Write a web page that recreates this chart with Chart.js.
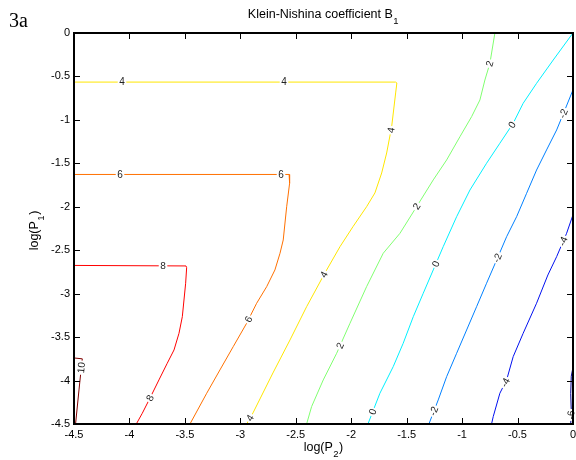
<!DOCTYPE html>
<html>
<head>
<meta charset="utf-8">
<script src="https://cdn.jsdelivr.net/npm/chart.js@4.4.1/dist/chart.umd.min.js"></script>
<style>
  html, body { margin: 0; padding: 0; background: #fff; }
  canvas { display: block; }
</style>
</head>
<body>
<canvas id="kn" width="576" height="460"></canvas>
<script>
// B1 contour levels; each level is a polyline in (log P2, log P1)
const levels = [10, 8, 6, 4, 2, 0, -2, -4, -6];

const x10 = [-4.5, -4.425, -4.43, -4.455, -4.486];
const y10 = [-3.74, -3.75, -3.80, -4.108, -4.5];

const x8 = [-4.5, -3.49, -3.484, -3.493, -3.523, -3.553, -3.598, -3.659, -3.734, -3.808, -3.884, -3.938];
const y8 = [-2.675, -2.681, -2.70, -2.880, -3.265, -3.456, -3.648, -3.801, -3.993, -4.185, -4.376, -4.5];

const x6 = [-4.5, -2.56, -2.552, -2.559, -2.582, -2.613, -2.642, -2.688, -2.762, -2.853, -2.943, -3.064, -3.184, -3.303, -3.454];
const y6 = [-1.628, -1.628, -1.634, -1.730, -2.000, -2.382, -2.535, -2.727, -2.919, -3.111, -3.341, -3.610, -3.878, -4.146, -4.5];

const x4 = [-4.5, -1.60, -1.588, -1.599, -1.635, -1.680, -1.725, -1.786, -1.861, -1.984, -2.101, -2.237, -2.402, -2.552, -2.706, -2.886, -2.943];
const y4 = [-0.565, -0.565, -0.575, -0.690, -1.078, -1.381, -1.611, -1.841, -1.999, -2.229, -2.459, -2.762, -3.150, -3.533, -3.913, -4.373, -4.5];

const x2 = [-0.704, -0.749, -0.794, -0.839, -0.914, -1.019, -1.139, -1.260, -1.410, -1.560, -1.711, -1.861, -2.011, -2.131, -2.252, -2.357, -2.402];
const y2 = [0, -0.349, -0.541, -0.771, -0.963, -1.193, -1.461, -1.691, -1.999, -2.305, -2.535, -2.919, -3.341, -3.686, -3.993, -4.300, -4.5];

const x0 = [0, -0.178, -0.328, -0.449, -0.539, -0.659, -0.779, -0.929, -1.049, -1.170, -1.260, -1.350, -1.440, -1.531, -1.621, -1.741, -1.849];
const y0 = [0, -0.311, -0.579, -0.809, -1.039, -1.269, -1.499, -1.807, -2.114, -2.459, -2.727, -2.995, -3.265, -3.571, -3.840, -4.146, -4.5];

const xm2 = [0, -0.073, -0.147, -0.238, -0.328, -0.418, -0.508, -0.598, -0.688, -0.779, -0.869, -0.959, -1.049, -1.139, -1.215, -1.299];
const ym2 = [-0.656, -0.886, -1.116, -1.346, -1.577, -1.845, -2.114, -2.344, -2.612, -2.880, -3.150, -3.418, -3.686, -3.955, -4.223, -4.5];

const xm4 = [0, -0.057, -0.147, -0.226, -0.328, -0.449, -0.539, -0.598, -0.659, -0.719, -0.734];
const ym4 = [-2.094, -2.305, -2.574, -2.785, -3.110, -3.456, -3.725, -3.993, -4.146, -4.415, -4.5];

const xm6 = [0, -0.015, -0.02, -0.015, -0.02];
const ym6 = [-3.85, -3.95, -4.15, -4.35, -4.5];

// where the inline level labels sit on each contour
const lab10 = [[-4.446, -3.85]];
const lab8 = [[-3.697, -2.681], [-3.797, -4.212]];
const lab6 = [[-4.085, -1.628], [-2.633, -1.628], [-2.913, -3.303]];
const lab4 = [[-4.067, -0.565], [-2.606, -0.565], [-1.651, -1.116], [-2.237, -2.785], [-2.895, -4.442]];
const lab2 = [[-0.740, -0.357], [-1.416, -1.991], [-2.074, -3.613]];
const lab0 = [[-0.532, -1.07], [-1.236, -2.658], [-1.804, -4.361]];
const labm2 = [[-0.055, -0.944], [-0.677, -2.589], [-1.236, -4.361]];
const labm4 = [[-0.073, -2.405], [-0.604, -4.028]];
const labm6 = [[-0.018, -4.396]];

const axisTicks = [-4.5, -4, -3.5, -3, -2.5, -2, -1.5, -1, -0.5, 0];

const contourX = [x10, x8, x6, x4, x2, x0, xm2, xm4, xm6];
const contourY = [y10, y8, y6, y4, y2, y0, ym2, ym4, ym6];
const contourLabels = [lab10, lab8, lab6, lab4, lab2, lab0, labm2, labm4, labm6];

// jet colormap over the levels
const levelColors = ['#800000', '#ff0000', '#ff7000', '#ffe600', '#80ff70', '#00f0ff', '#0080ff', '#0010f0', '#00008f'];

const FONT = "'Liberation Sans', Arial, sans-serif";

const datasets = levels.map((lv, i) => ({
    label: String(lv),
    data: contourX[i].map((x, j) => ({ x: x, y: contourY[i][j] })),
    borderColor: levelColors[i],
    borderWidth: 1,
    showLine: true,
    pointRadius: 0,
    fill: false,
    tension: 0
}));

function drawContourLabels(chart) {
    const ctx = chart.ctx;
    const xs = chart.scales.x, ys = chart.scales.y;
    ctx.save();
    ctx.font = '10px ' + FONT;
    ctx.textAlign = 'center';
    ctx.textBaseline = 'middle';
    levels.forEach((lv, i) => {
        const pts = contourX[i].map((x, j) => [xs.getPixelForValue(x), ys.getPixelForValue(contourY[i][j])]);
        contourLabels[i].forEach(([ax, ay]) => {
            const px = xs.getPixelForValue(ax), py = ys.getPixelForValue(ay);
            let best = null;
            for (let k = 0; k < pts.length - 1; k++) {
                const [ax1, ay1] = pts[k], [ax2, ay2] = pts[k + 1];
                const dx = ax2 - ax1, dy = ay2 - ay1;
                const len2 = dx * dx + dy * dy || 1;
                let t = ((px - ax1) * dx + (py - ay1) * dy) / len2;
                t = Math.max(0, Math.min(1, t));
                const qx = ax1 + t * dx, qy = ay1 + t * dy;
                const d = (qx - px) ** 2 + (qy - py) ** 2;
                if (!best || d < best.d) best = { d, qx, qy, ang: Math.atan2(dy, dx) };
            }
            let ang = best.ang;
            if (ang > Math.PI / 2) ang -= Math.PI;
            if (ang <= -Math.PI / 2) ang += Math.PI;
            const text = String(lv);
            const w = ctx.measureText(text).width;
            ctx.save();
            ctx.translate(best.qx, best.qy);
            ctx.rotate(ang);
            ctx.fillStyle = '#ffffff';
            ctx.fillRect(-w / 2 - 1.5, -4.5, w + 3, 9);
            ctx.fillStyle = '#222222';
            ctx.fillText(text, 0, 0.5);
            ctx.restore();
        });
    });
    ctx.restore();
}

// axes box with short inward ticks on all four sides
function drawBox(chart) {
    const ctx = chart.ctx;
    const a = chart.chartArea;
    const xs = chart.scales.x, ys = chart.scales.y;
    const L = Math.round(a.left), T = Math.round(a.top), R = Math.round(a.right), B = Math.round(a.bottom);
    ctx.save();
    ctx.fillStyle = '#000000';
    axisTicks.forEach(v => {
        const px = Math.round(xs.getPixelForValue(v));
        const py = Math.round(ys.getPixelForValue(v));
        ctx.fillRect(px, B - 6, 1, 5);
        ctx.fillRect(px, T + 1, 1, 5);
        ctx.fillRect(L + 1, py, 5, 1);
        ctx.fillRect(R - 6, py, 5, 1);
    });
    ctx.fillRect(L - 1, T - 1, R - L + 2, 2);
    ctx.fillRect(L - 1, B - 1, R - L + 2, 2);
    ctx.fillRect(L - 1, T - 1, 2, B - T + 2);
    ctx.fillRect(R - 1, T - 1, 2, B - T + 2);
    ctx.restore();
}

// text with a lowered subscript, centred on cx
function subText(ctx, pre, sub, post, cx, y) {
    ctx.font = '12.5px ' + FONT;
    const wPre = ctx.measureText(pre).width, wPost = ctx.measureText(post).width;
    ctx.font = '9.5px ' + FONT;
    const wSub = ctx.measureText(sub).width;
    const left = cx - (wPre + wSub + wPost + 1) / 2;
    ctx.font = '12.5px ' + FONT;
    ctx.fillText(pre, left, y);
    if (post) ctx.fillText(post, left + wPre + wSub + 1, y);
    ctx.font = '9.5px ' + FONT;
    ctx.fillText(sub, left + wPre + 0.5, y + 6);
}

function drawTitles(chart) {
    const ctx = chart.ctx;
    const a = chart.chartArea;
    const cx = (a.left + a.right) / 2;
    ctx.save();
    ctx.fillStyle = '#000000';
    ctx.textBaseline = 'alphabetic';
    ctx.textAlign = 'left';
    subText(ctx, 'Klein-Nishina coefficient B', '1', '', cx, 18);
    subText(ctx, 'log(P', '2', ')', cx, 451);
    ctx.save();
    ctx.translate(38, (a.top + a.bottom) / 2 + 2);
    ctx.rotate(-Math.PI / 2);
    subText(ctx, 'log(P', '1', ')', 0, 0);
    ctx.restore();
    ctx.font = "20px 'Liberation Serif', 'Times New Roman', serif";
    ctx.fillText('3a', 9, 27);
    ctx.restore();
}

const decorPlugin = {
    id: 'decor',
    afterDatasetsDraw(chart) {
        drawContourLabels(chart);
    },
    afterDraw(chart) {
        drawBox(chart);
        drawTitles(chart);
    }
};

const fmt = v => String(Number(Number(v).toFixed(1)));
const tickFont = { family: FONT, size: 11 };

new Chart(document.getElementById('kn'), {
    type: 'scatter',
    data: { datasets: datasets },
    options: {
        responsive: false,
        animation: false,
        layout: { padding: { top: 33, right: 0, left: 0, bottom: 0 } },
        plugins: {
            legend: { display: false },
            tooltip: { enabled: false }
        },
        scales: {
            x: {
                type: 'linear',
                min: -4.5,
                max: 0,
                afterFit: s => { s.height = 36; },
                afterBuildTicks: s => { s.ticks = axisTicks.map(v => ({ value: v })); },
                ticks: { color: '#000', padding: 0, maxRotation: 0, autoSkip: false, font: tickFont, callback: fmt },
                grid: { display: false, drawTicks: true, tickLength: 4 },
                border: { display: false }
            },
            y: {
                type: 'linear',
                min: -4.5,
                max: 0,
                afterFit: s => { s.width = 74; },
                afterBuildTicks: s => { s.ticks = axisTicks.map(v => ({ value: v })); },
                ticks: { color: '#000', padding: 0, autoSkip: false, font: tickFont, callback: fmt },
                grid: { display: false, drawTicks: true, tickLength: 4 },
                border: { display: false }
            }
        }
    },
    plugins: [decorPlugin]
});
</script>
</body>
</html>
